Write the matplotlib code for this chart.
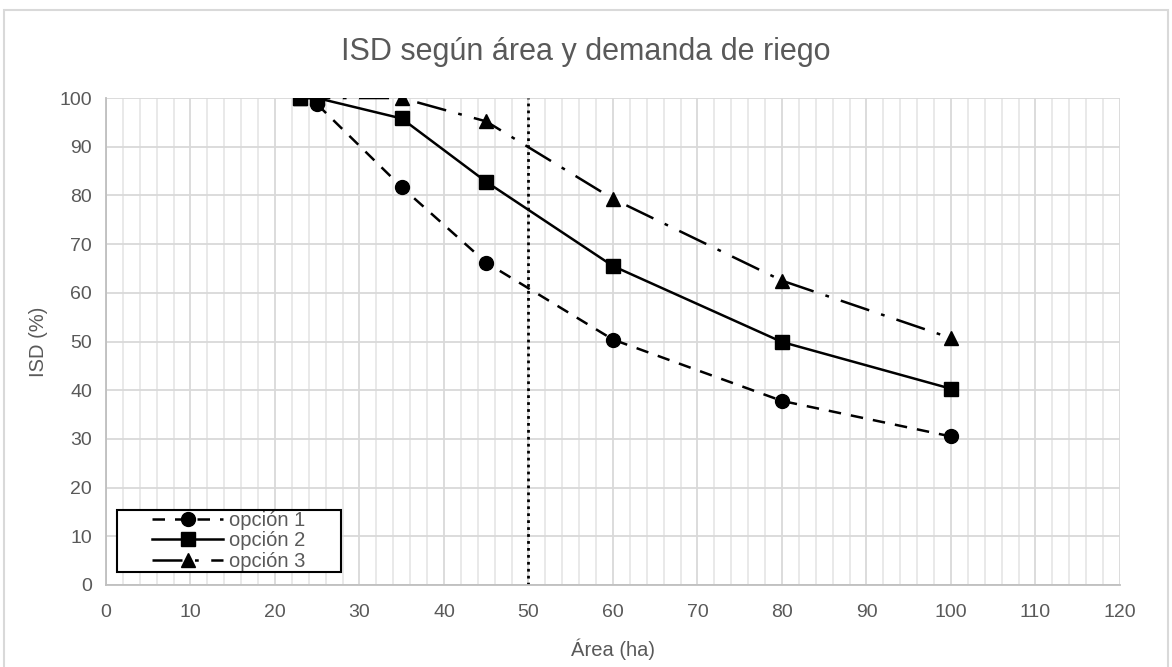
import matplotlib.pyplot as plt
from matplotlib.patches import Rectangle
from matplotlib.ticker import MultipleLocator

plt.rcParams['font.family'] = ['Liberation Sans', 'DejaVu Sans']

area = [23, 25, 35, 45, 60, 80, 100]
op1 = [100, 98.7, 81.7, 66.2, 50.4, 37.8, 30.5]
op2 = [100, 100, 95.8, 82.8, 65.5, 49.9, 40.3]
op3 = [100, 100, 100, 95.2, 79.3, 62.5, 50.7]
labels = ['opción 1', 'opción 2', 'opción 3']
area_ref = 50

gray = '#595959'

fig = plt.figure(figsize=(11.72, 6.67), dpi=100)
ax = fig.add_axes([0.0904, 0.123, 0.8652, 0.730])

# outer chart border
fig.patches.append(Rectangle((0.003, -0.01), 0.994, 0.995, transform=fig.transFigure,
                             fill=False, edgecolor='#d9d9d9', linewidth=1.5))

ax.plot(area[1:], op1[1:], color='black', lw=1.8, dashes=(5, 4), marker='o', ms=10, label=labels[0])
ax.plot(area, op2, color='black', lw=1.8, ls='-', marker='s', ms=10, label=labels[1])
ax.plot(area, op3, color='black', lw=1.8, dashes=(12, 5, 1.5, 5), marker='^', ms=10, label=labels[2])
ax.axvline(area_ref, color='black', lw=2, ls=(0, (1, 1.5)))

ax.set_xlim(0, 120)
ax.set_ylim(0, 100)
ax.xaxis.set_major_locator(MultipleLocator(10))
ax.xaxis.set_minor_locator(MultipleLocator(2))
ax.yaxis.set_major_locator(MultipleLocator(10))
ax.grid(which='major', color='#d9d9d9', lw=1.3, zorder=0)
ax.grid(which='minor', axis='x', color='#e3e3e3', lw=1.1, zorder=0)
ax.set_axisbelow(True)
for s in ['top', 'right']:
    ax.spines[s].set_visible(False)
for s in ['left', 'bottom']:
    ax.spines[s].set_color('#bfbfbf')
    ax.spines[s].set_linewidth(1.3)
ax.tick_params(which='both', length=0, labelsize=14, labelcolor=gray)
ax.tick_params(axis='x', pad=14)
ax.tick_params(axis='y', pad=10)

fig.text(0.5, 0.922, 'ISD según área y demanda de riego', fontsize=22, color=gray,
         ha='center', va='center')
ax.set_xlabel('Área (ha)', fontsize=14.5, color=gray, labelpad=12)
ax.set_ylabel('ISD (%)', fontsize=14.5, color=gray, labelpad=8)

# legend box drawn separately, legend itself centred inside it
ax.add_patch(Rectangle((0.0108, 0.0267), 0.221, 0.1273, transform=ax.transAxes,
                       facecolor='white', edgecolor='black', lw=1.5, zorder=4))
leg = ax.legend(loc='center', bbox_to_anchor=(0.1213, 0.0903), fontsize=14.5, labelcolor=gray,
                handlelength=3.5, labelspacing=0.07, borderpad=0, handletextpad=0.3,
                frameon=False)
leg.set_zorder(5)

fig.savefig('out.png', dpi=100)
